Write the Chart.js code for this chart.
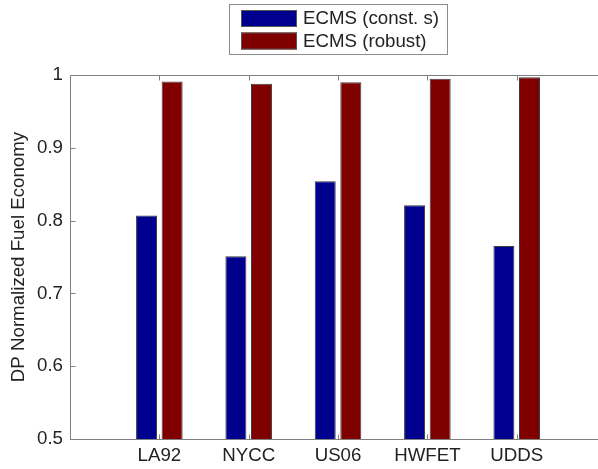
<!DOCTYPE html>
<html>
<head>
<meta charset="utf-8">
<script src="https://cdn.jsdelivr.net/npm/chart.js@4"></script>
<style>
  html, body { margin: 0; padding: 0; background: #fff; overflow: hidden; }
</style>
</head>
<body>
<canvas id="chart" width="598" height="469"></canvas>
<script>
const categories = ['LA92', 'NYCC', 'US06', 'HWFET', 'UDDS'];
const constS = [0.807, 0.751, 0.854, 0.821, 0.765];
const robust = [0.991, 0.988, 0.990, 0.995, 0.997];
const yTicks = [0.5, 0.6, 0.7, 0.8, 0.9, 1];
// the original axes run from 0 to 6 but the picture is cut off on the right
const xMin = 0;
const xMax = 5.91;

const FONT = 'Liberation Sans, Arial, Helvetica, sans-serif';
const FSIZE = 18.7;
const AXIS = '#7f7f7f';

const toPoints = arr => arr.map((v, i) => ({ x: i + 1, y: v }));

const boxPlugin = {
    id: 'matlabBox',
    afterDatasetsDraw(chart) {
        const { ctx, chartArea: a, scales: { x, y } } = chart;
        const L = Math.round(a.left) + 0.5, R = chart.width;
        const T = Math.round(a.top) + 0.5, B = Math.round(a.bottom) + 0.5;
        ctx.save();
        ctx.strokeStyle = AXIS;
        ctx.lineWidth = 1;
        ctx.beginPath();
        ctx.moveTo(R, T); ctx.lineTo(L, T); ctx.lineTo(L, B); ctx.lineTo(R, B);
        yTicks.forEach(v => {
            const py = Math.round(y.getPixelForValue(v)) + 0.5;
            ctx.moveTo(L, py); ctx.lineTo(L + 5, py);
        });
        categories.forEach((c, i) => {
            const px = Math.round(x.getPixelForValue(i + 1)) + 0.5;
            ctx.moveTo(px, B); ctx.lineTo(px, B - 5);
            ctx.moveTo(px, T); ctx.lineTo(px, T + 5);
        });
        ctx.stroke();
        ctx.restore();
    },
    afterDraw(chart) {
        const { ctx } = chart;
        ctx.save();
        ctx.strokeStyle = '#8c8c8c';
        ctx.lineWidth = 1;
        ctx.fillStyle = '#fff';
        ctx.fillRect(229.5, 4.5, 218, 50);
        ctx.strokeRect(229.5, 4.5, 218, 50);
        ctx.font = FSIZE + 'px ' + FONT;
        ctx.textBaseline = 'middle';
        chart.data.datasets.forEach((ds, i) => {
            const top = 10 + i * 22.5;
            ctx.fillStyle = ds.backgroundColor;
            ctx.fillRect(241, top, 56, 17);
            ctx.strokeStyle = '#555';
            ctx.strokeRect(241.5, top + 0.5, 55, 16);
            ctx.fillStyle = '#222';
            ctx.fillText(ds.label, 303, top + 9);
        });
        ctx.restore();
    }
};

new Chart(document.getElementById('chart'), {
    type: 'bar',
    data: {
        datasets: [{
            label: 'ECMS (const. s)',
            data: toPoints(constS),
            backgroundColor: '#00008f',
            borderColor: '#3c3c3c',
            borderWidth: 1,
            categoryPercentage: 0.573,
            barPercentage: 0.82
        }, {
            label: 'ECMS (robust)',
            data: toPoints(robust),
            backgroundColor: '#800000',
            borderColor: '#3c3c3c',
            borderWidth: 1,
            categoryPercentage: 0.573,
            barPercentage: 0.82
        }]
    },
    options: {
        responsive: false,
        animation: false,
        devicePixelRatio: 1,
        layout: { padding: { top: 75, left: 0, right: 0, bottom: 0 } },
        plugins: {
            legend: { display: false },
            tooltip: { enabled: false }
        },
        scales: {
            x: {
                type: 'linear',
                min: xMin,
                max: xMax,
                offset: false,
                grid: { display: false, drawTicks: false },
                border: { display: false },
                ticks: {
                    stepSize: 1,
                    autoSkip: false,
                    maxRotation: 0,
                    padding: 6,
                    color: '#222',
                    font: { family: FONT, size: FSIZE },
                    callback: v => categories[v - 1] || ''
                },
                // drop the fractional end tick so bar widths use the full slot
                afterBuildTicks: s => { s.ticks = s.ticks.filter(t => Number.isInteger(t.value)); },
                afterFit: s => { s.height = 30; s.paddingLeft = 0; s.paddingRight = 0; }
            },
            y: {
                min: 0.5,
                max: 1,
                grid: { display: false, drawTicks: false },
                border: { display: false },
                ticks: {
                    stepSize: 0.1,
                    padding: 7,
                    color: '#222',
                    font: { family: FONT, size: FSIZE },
                    callback: v => String(+v.toFixed(1))
                },
                title: {
                    display: true,
                    text: 'DP Normalized Fuel Economy',
                    color: '#222',
                    font: { family: FONT, size: FSIZE },
                    padding: { top: 8, bottom: 0 }
                },
                afterFit: s => { s.width = 70; s.paddingTop = 0; s.paddingBottom = 0; }
            }
        }
    },
    plugins: [boxPlugin]
});
</script>
</body>
</html>
